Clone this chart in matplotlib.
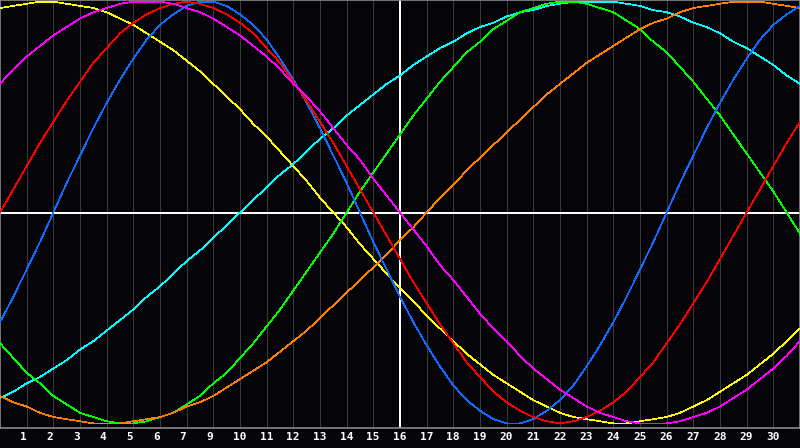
import matplotlib
matplotlib.use('Agg')
import matplotlib.pyplot as plt
import matplotlib.transforms as mtransforms

# half-day steps across the chart (gridline index 0..30)
days = [i / 2 for i in range(61)]

# tick labels under gridlines 1..29 (the reference skips "8")
day_labels = ['1', '2', '3', '4', '5', '6', '7', '9', '10', '11', '12', '13', '14', '15',
              '16', '17', '18', '19', '20', '21', '22', '23', '24', '25', '26', '27',
              '28', '29', '30']

# curve values, every half gridline
yellow = [0.97, 0.98, 0.99, 1.00, 1.00, 0.99, 0.98, 0.97, 0.95, 0.92,
          0.89, 0.85, 0.81, 0.77, 0.72, 0.67, 0.61, 0.55, 0.49, 0.42,
          0.36, 0.29, 0.22, 0.15, 0.07, 0.00, -0.07, -0.15, -0.22, -0.29,
          -0.36, -0.42, -0.49, -0.55, -0.61, -0.67, -0.72, -0.77, -0.81, -0.85,
          -0.89, -0.92, -0.95, -0.97, -0.98, -0.99, -1.00, -1.00, -0.99, -0.98,
          -0.97, -0.95, -0.92, -0.89, -0.85, -0.81, -0.77, -0.72, -0.67, -0.61,
          -0.55]
cyan = [-0.88, -0.85, -0.81, -0.78, -0.74, -0.70, -0.65, -0.61, -0.56, -0.51,
        -0.46, -0.40, -0.35, -0.29, -0.23, -0.18, -0.12, -0.06, 0.00, 0.06,
        0.12, 0.18, 0.23, 0.29, 0.35, 0.40, 0.46, 0.51, 0.56, 0.61,
        0.65, 0.70, 0.74, 0.78, 0.81, 0.85, 0.88, 0.90, 0.93, 0.95,
        0.96, 0.98, 0.99, 1.00, 1.00, 1.00, 1.00, 0.99, 0.98, 0.96,
        0.95, 0.93, 0.90, 0.88, 0.85, 0.81, 0.78, 0.74, 0.70, 0.65,
        0.61]
green = [-0.62, -0.69, -0.76, -0.81, -0.87, -0.91, -0.95, -0.97, -0.99, -1.00,
         -1.00, -0.99, -0.97, -0.95, -0.91, -0.87, -0.81, -0.76, -0.69, -0.62,
         -0.54, -0.46, -0.37, -0.28, -0.19, -0.10, 0.00, 0.10, 0.19, 0.28,
         0.37, 0.46, 0.54, 0.62, 0.69, 0.76, 0.81, 0.87, 0.91, 0.95,
         0.97, 0.99, 1.00, 1.00, 0.99, 0.97, 0.95, 0.91, 0.87, 0.81,
         0.76, 0.69, 0.62, 0.54, 0.46, 0.37, 0.28, 0.19, 0.10, 0.00,
         -0.10]
orange = [-0.87, -0.90, -0.92, -0.95, -0.97, -0.98, -0.99, -1.00, -1.00, -1.00,
          -0.99, -0.98, -0.97, -0.95, -0.92, -0.90, -0.87, -0.83, -0.79, -0.75,
          -0.71, -0.66, -0.61, -0.56, -0.50, -0.44, -0.38, -0.32, -0.26, -0.20,
          -0.13, -0.07, 0.00, 0.07, 0.13, 0.20, 0.26, 0.32, 0.38, 0.44,
          0.50, 0.56, 0.61, 0.66, 0.71, 0.75, 0.79, 0.83, 0.87, 0.90,
          0.92, 0.95, 0.97, 0.98, 0.99, 1.00, 1.00, 1.00, 0.99, 0.98,
          0.97]
blue = [-0.52, -0.40, -0.27, -0.14, 0.00, 0.14, 0.27, 0.40, 0.52, 0.63,
        0.73, 0.82, 0.89, 0.94, 0.98, 1.00, 1.00, 0.98, 0.94, 0.89,
        0.82, 0.73, 0.63, 0.52, 0.40, 0.27, 0.14, 0.00, -0.14, -0.27,
        -0.40, -0.52, -0.63, -0.73, -0.82, -0.89, -0.94, -0.98, -1.00, -1.00,
        -0.98, -0.94, -0.89, -0.82, -0.73, -0.63, -0.52, -0.40, -0.27, -0.14,
        0.00, 0.14, 0.27, 0.40, 0.52, 0.63, 0.73, 0.82, 0.89, 0.94,
        0.98]
red = [0.00, 0.11, 0.22, 0.33, 0.43, 0.53, 0.62, 0.71, 0.78, 0.85,
       0.90, 0.94, 0.97, 0.99, 1.00, 0.99, 0.97, 0.94, 0.90, 0.85,
       0.78, 0.71, 0.62, 0.53, 0.43, 0.33, 0.22, 0.11, 0.00, -0.11,
       -0.22, -0.33, -0.43, -0.53, -0.62, -0.71, -0.78, -0.85, -0.90, -0.94,
       -0.97, -0.99, -1.00, -0.99, -0.97, -0.94, -0.90, -0.85, -0.78, -0.71,
       -0.62, -0.53, -0.43, -0.33, -0.22, -0.11, 0.00, 0.11, 0.22, 0.33,
       0.43]
magenta = [0.61, 0.68, 0.74, 0.79, 0.84, 0.88, 0.92, 0.95, 0.97, 0.99,
           1.00, 1.00, 1.00, 0.99, 0.97, 0.95, 0.92, 0.88, 0.84, 0.79,
           0.74, 0.68, 0.61, 0.55, 0.48, 0.40, 0.32, 0.25, 0.16, 0.08,
           0.00, -0.08, -0.16, -0.25, -0.32, -0.40, -0.48, -0.55, -0.61, -0.68,
           -0.74, -0.79, -0.84, -0.88, -0.92, -0.95, -0.97, -0.99, -1.00, -1.00,
           -1.00, -0.99, -0.97, -0.95, -0.92, -0.88, -0.84, -0.79, -0.74, -0.68,
           -0.61]

curves = [
    (yellow, '#ffff00'),
    (cyan, '#00ffff'),
    (green, '#00ff00'),
    (orange, '#ff8000'),
    (blue, '#0f6cff'),
    (red, '#ff0000'),
    (magenta, '#ff00ff'),
]

bg = '#050509'
fig = plt.figure(figsize=(8, 4.48), dpi=100, facecolor=bg)
ax = fig.add_axes([0, 20 / 448, 1, 428 / 448])
ax.set_facecolor(bg)

# day gridlines
for d in range(1, 30):
    ax.axvline(d, color='#3a3a3a', lw=0.72, antialiased=False, zorder=1)

ax.axhline(0, color='white', lw=1.44, antialiased=False, zorder=2)
ax.axvline(15, color='white', lw=1.44, antialiased=False, zorder=2)

for vals, col in curves:
    ax.plot(days, vals, color=col, lw=0.5, antialiased=False, zorder=3)

ax.set_xlim(0, 30)
ax.set_ylim(-1.022, 1.008)
ax.set_yticks([])
ax.set_xticks(range(1, 30))
ax.set_xticklabels(day_labels, color='white', fontsize=8, fontweight='bold',
                   family='DejaVu Sans Mono')
ax.tick_params(axis='x', length=0, pad=3)
shift = mtransforms.ScaledTranslation(-7 / 100, 0, fig.dpi_scale_trans)
for lab in ax.get_xticklabels():
    lab.set_ha('left')
    lab.set_transform(lab.get_transform() + shift)

for s in ax.spines.values():
    s.set_color('#8a8a8a')
    s.set_linewidth(1.2)

fig.savefig('out.png', dpi=100, facecolor=bg)
